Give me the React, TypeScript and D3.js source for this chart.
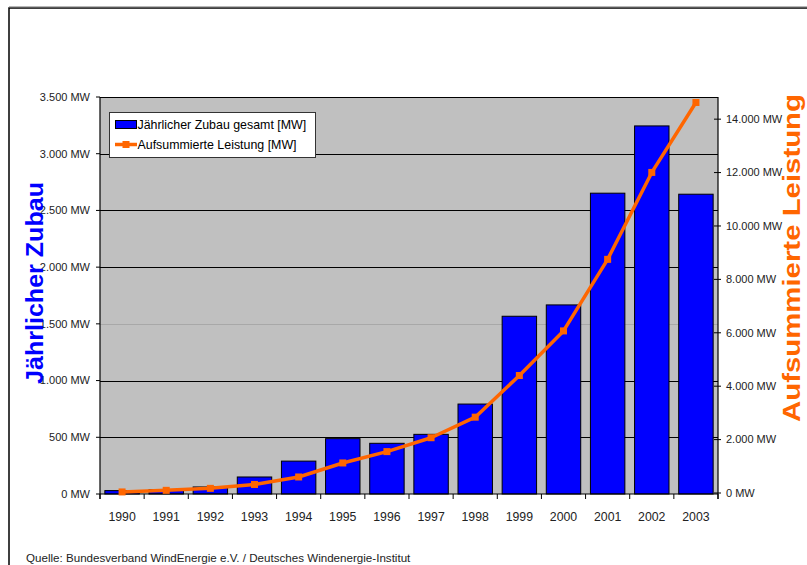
import React from "react";
import * as d3 from "d3";

const years = ["1990","1991","1992","1993","1994","1995","1996","1997","1998","1999","2000","2001","2002","2003"];
const annualAdded = [30, 38, 62, 150, 290, 488, 447, 526, 793, 1567, 1667, 2652, 3245, 2643];
const cumulative = [40, 100, 174, 320, 600, 1125, 1550, 2070, 2840, 4400, 6070, 8750, 12005, 14625];
const leftTicks = [0, 500, 1000, 1500, 2000, 2500, 3000, 3500];
const rightTicks = [0, 2000, 4000, 6000, 8000, 10000, 12000, 14000];
const legendLabels = ["Jährlicher Zubau gesamt [MW]", "Aufsummierte Leistung [MW]"];
const leftTitle = "Jährlicher Zubau";
const rightTitle = "Aufsummierte Leistung";
const sourceText = "Quelle: Bundesverband WindEnergie e.V. / Deutsches Windenergie-Institut";

const fmt = (v: number) => d3.format(",")(v).replace(/,/g, ".") + " MW";

export default function App() {
  const W = 807, H = 565;
  const pl = 100, pr = 718, pt = 97, pb = 494;
  const font = "Arial, 'Liberation Sans', sans-serif";

  const x = d3.scaleBand<string>().domain(years).range([pl, pr]).paddingInner(0.22).paddingOuter(0.11);
  const step = x.step();
  const yL = d3.scaleLinear().domain([0, 3500]).range([pb, pt]);
  const yR = d3.scaleLinear().domain([0, 14830]).range([pb - 1, pt]);

  const line = d3.line<number>()
    .x((_, i) => (x(years[i]) as number) + x.bandwidth() / 2)
    .y((d) => yR(d));

  const boundaries = d3.range(years.length + 1).map((i) => pl + i * step);

  return (
    <svg width={W} height={H} style={{ position: "absolute", left: 0, top: 0, background: "#fff" }} fontFamily={font}>
      {/* frame */}
      <rect x={9} y={8} width={900} height={700} fill="none" stroke="#000" strokeWidth={1.5} />
      <line x1={9} x2={900} y1={6.8} y2={6.8} stroke="#999" strokeWidth={1} />

      {/* plot area */}
      <rect x={pl} y={pt} width={pr - pl} height={pb - pt} fill="#C0C0C0" />
      {leftTicks.slice(1).map((t) => (
        <line key={t} x1={pl} x2={pr} y1={Math.round(yL(t)) + 0.5} y2={Math.round(yL(t)) + 0.5}
          stroke={t === 1500 ? "#a8a8a8" : "#000"} strokeWidth={1} />
      ))}

      {/* bars */}
      {annualAdded.map((v, i) => (
        <rect key={years[i]} x={x(years[i])} y={yL(v)} width={x.bandwidth()} height={pb - yL(v)}
          fill="#0000FF" stroke="#000" strokeWidth={1} />
      ))}

      {/* axes */}
      <line x1={pl} x2={pl} y1={pt} y2={pb + 5} stroke="#000" strokeWidth={1.2} />
      <line x1={pr} x2={pr} y1={pt} y2={pb + 5} stroke="#000" strokeWidth={1.2} />
      <line x1={pl} x2={pr} y1={pb} y2={pb} stroke="#000" strokeWidth={1.2} />
      {boundaries.map((b, i) => (
        <line key={i} x1={b} x2={b} y1={pb} y2={pb + 5} stroke="#000" strokeWidth={1} />
      ))}
      {leftTicks.map((t) => (
        <g key={t}>
          <line x1={pl - 4} x2={pl} y1={yL(t)} y2={yL(t)} stroke="#000" strokeWidth={1} />
          <text x={90} y={yL(t)} dy="0.35em" textAnchor="end" fontSize={11} fill="#222">{fmt(t)}</text>
        </g>
      ))}
      {rightTicks.map((t) => (
        <g key={t}>
          <line x1={pr - 4} x2={pr + 3} y1={yR(t)} y2={yR(t)} stroke="#000" strokeWidth={1} />
          <text x={726} y={yR(t)} dy="0.35em" textAnchor="start" fontSize={11} fill="#222">{fmt(t)}</text>
        </g>
      ))}
      {years.map((yr) => (
        <text key={yr} x={(x(yr) as number) + x.bandwidth() / 2} y={520.5} textAnchor="middle" fontSize={12.3} fill="#222">{yr}</text>
      ))}

      {/* line */}
      <path d={line(cumulative) || ""} fill="none" stroke="#FF6600" strokeWidth={3.5} strokeLinejoin="round" />
      {cumulative.map((v, i) => (
        <rect key={i} x={(x(years[i]) as number) + x.bandwidth() / 2 - 3.5} y={yR(v) - 3.5} width={7} height={7} fill="#FF6600" />
      ))}

      {/* legend */}
      <rect x={109.5} y={112.5} width={206} height={45} fill="#fff" stroke="#333" strokeWidth={1} />
      <rect x={115.5} y={120.5} width={21} height={8} fill="#0000FF" stroke="#000" strokeWidth={1} />
      <text x={137.5} y={124.5} dy="0.35em" fontSize={12.4} fill="#000">{legendLabels[0]}</text>
      <line x1={115} x2={137} y1={144.5} y2={144.5} stroke="#FF6600" strokeWidth={3.5} />
      <rect x={122.5} y={141} width={7} height={7} fill="#FF6600" />
      <text x={137.5} y={144.5} dy="0.35em" fontSize={12.4} fill="#000">{legendLabels[1]}</text>

      {/* axis titles */}
      <text transform={`translate(43,283) rotate(-90)`} textAnchor="middle" fontSize={24} fontWeight="bold"
        fill="#0000FF" textLength={202} lengthAdjust="spacingAndGlyphs">{leftTitle}</text>
      <text transform={`translate(800,258) rotate(-90)`} textAnchor="middle" fontSize={24} fontWeight="bold"
        fill="#FF6600" textLength={328} lengthAdjust="spacingAndGlyphs">{rightTitle}</text>

      {/* source */}
      <text x={26} y={562} fontSize={11.6} fill="#222">{sourceText}</text>
    </svg>
  );
}
